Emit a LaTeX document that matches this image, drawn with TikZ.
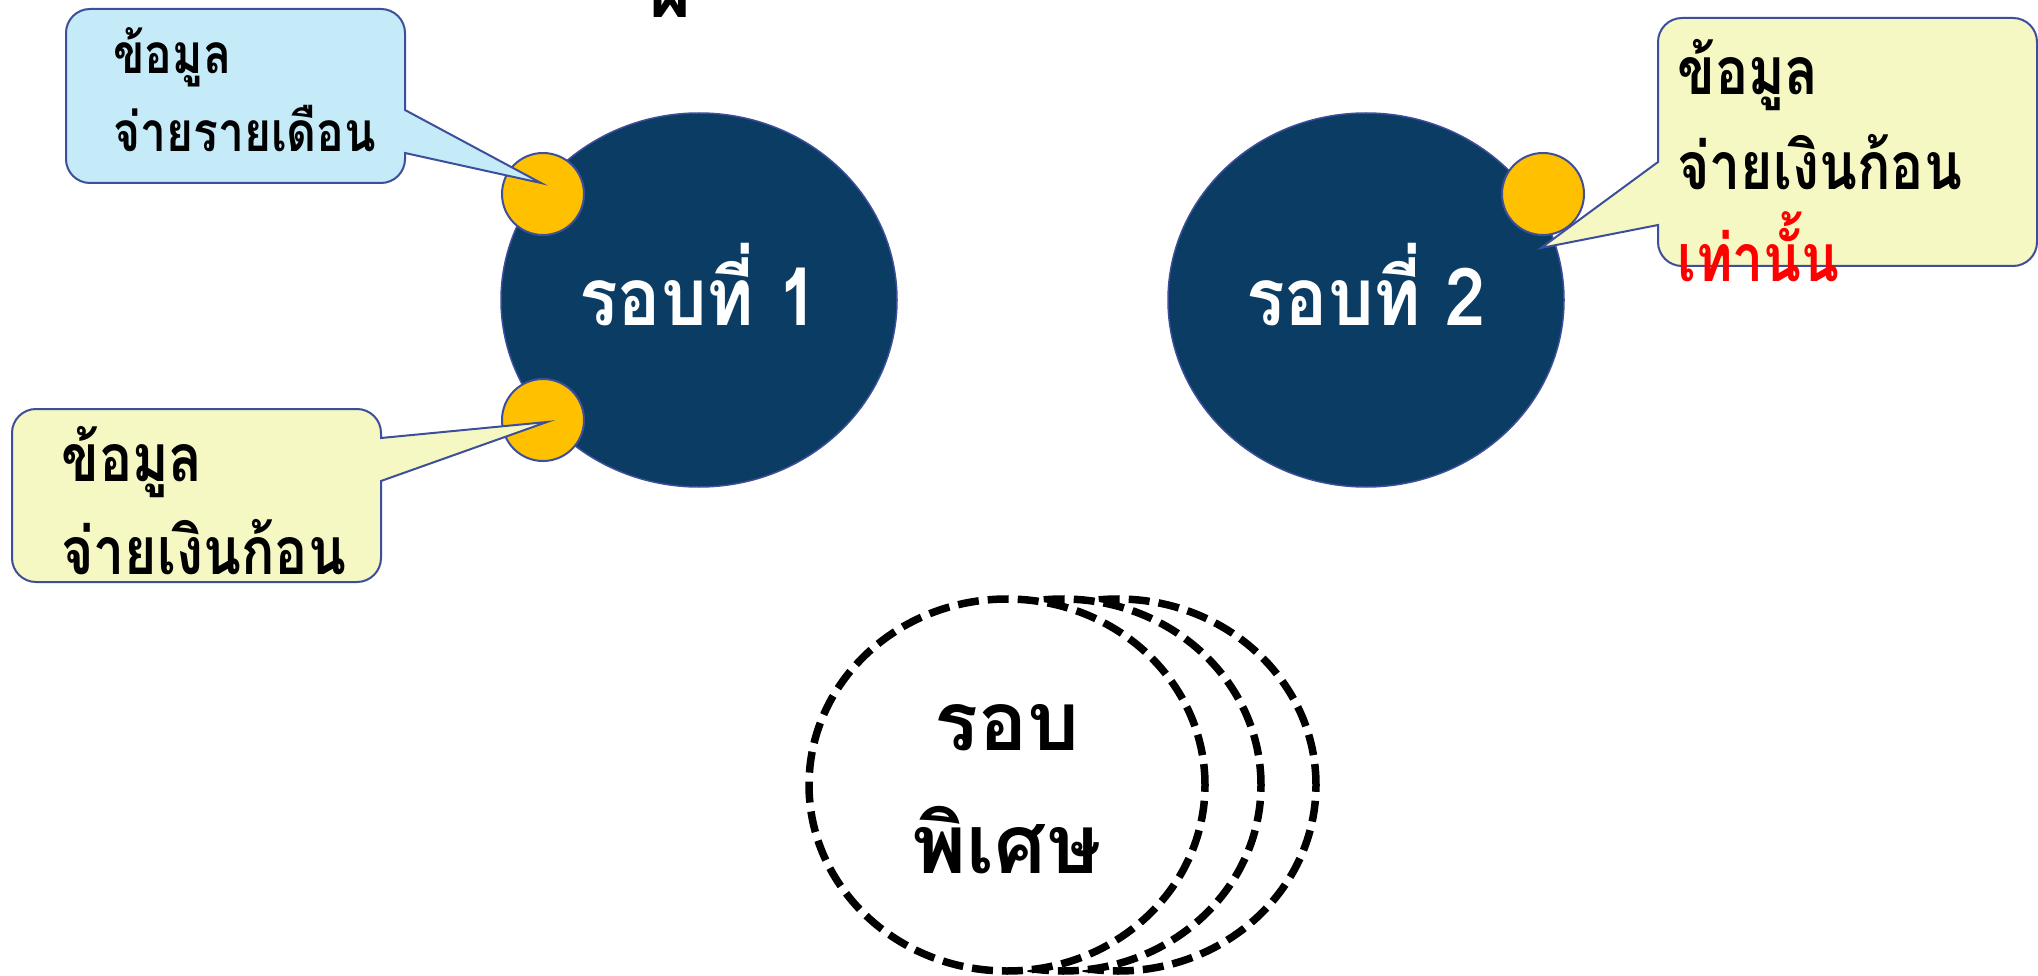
\documentclass[tikz,border=0pt]{standalone}
\usepackage{fontspec}
\usetikzlibrary{shapes.geometric}
\newfontfamily\thai[Script=Thai]{Loma}
\newfontfamily\thainarrow[Script=Thai, FakeStretch=0.84]{Loma}
\newfontfamily\thaimid[Script=Thai, FakeStretch=0.9]{Loma}
\definecolor{navy}{HTML}{0B3C64}
\definecolor{rim}{HTML}{3D4F9A}
\definecolor{sun}{HTML}{FFC000}
\definecolor{skyfill}{HTML}{C5EBF9}
\definecolor{lemon}{HTML}{F5F8C2}
\definecolor{redtxt}{HTML}{FF0000}
\tikzset{
  bigcirc/.style={ellipse, draw=rim, line width=1.5pt, fill=navy, minimum width=396pt, minimum height=374pt, inner sep=0pt},
  dot/.style={circle, draw=rim, line width=2pt, fill=sun, minimum size=82pt, inner sep=0pt},
  dashring/.style={ellipse, draw=black, fill=white, line width=7.5pt, dash pattern=on 21pt off 9pt, minimum width=396pt, minimum height=372pt, inner sep=0pt},
  callout/.style={draw=rim, line width=2pt, line join=miter},
  roundlabel/.style={anchor=base, inner sep=0pt, text=white, font=\thaimid\bfseries\fontsize{80}{88}\selectfont},
  ctext/.style={anchor=base west, inner sep=0pt, font=\thainarrow\bfseries\fontsize{66}{70}\selectfont},
  ctextnarrow/.style={anchor=base west, inner sep=0pt, font=\thainarrow\bfseries\fontsize{55}{60}\selectfont},
  speclabel/.style={anchor=base, inner sep=0pt, font=\thai\bfseries\fontsize{82}{90}\selectfont}
}
\begin{document}
\begin{tikzpicture}[x=1pt,y=-1pt]
\useasboundingbox (0,0) rectangle (2038,976);
\clip (0,0) rectangle (2038,976);

% partial title glyph at top
\node[anchor=base, inner sep=0pt, font=\thai\bfseries\fontsize{72}{80}\selectfont] (title) at (671,18) {ผ};

% main rounds
\node[bigcirc] (r1) at (699,300) {};
\node[bigcirc] (r2) at (1366,300) {};
\node[roundlabel] (r1t) at (699,326) {รอบที่ 1};
\node[roundlabel] (r2t) at (1366,326) {รอบที่ 2};

% yellow dots
\node[dot] (d1) at (543,194) {};
\node[dot] (d2) at (543,420) {};
\node[dot] (d3) at (1543,194) {};

% special round (stacked dashed rings)
\node[dashring] (s3) at (1118,785) {};
\node[dashring] (s2) at (1063,785) {};
\node[dashring] (s1) at (1007,785) {};
\node[speclabel] (s1a) at (1007,750) {รอบ};
\node[speclabel] (s1b) at (1007,873) {พิเศษ};

% callout tips
\coordinate (t1) at ([shift={(-2,-11)}]d1.center);
\coordinate (t2) at ([shift={(4,2)}]d2.center);
\coordinate (t3) at ([shift={(-2,54)}]d3.center);

% callout 1 (monthly)
\filldraw[callout, fill=skyfill]
  (90,9) -- (381,9) arc[start angle=-90, end angle=0, radius=24]
  -- (405,110) -- (t1) -- (405,153) -- (405,159) arc[start angle=0, end angle=90, radius=24]
  -- (90,183) arc[start angle=90, end angle=180, radius=24]
  -- (66,33) arc[start angle=180, end angle=270, radius=24] -- cycle;
\node[ctextnarrow] (c1a) at (113,74) {ข้อมูล};
\node[ctextnarrow] (c1b) at (113,152) {จ่ายรายเดือน};

% callout 2 (lump sum)
\filldraw[callout, fill=lemon]
  (36,409) -- (357,409) arc[start angle=-90, end angle=0, radius=24]
  -- (381,438) -- (t2) -- (381,481) -- (381,558) arc[start angle=0, end angle=90, radius=24]
  -- (36,582) arc[start angle=90, end angle=180, radius=24]
  -- (12,433) arc[start angle=180, end angle=270, radius=24] -- cycle;
\node[ctext] (c2a) at (61,481) {ข้อมูล};
\node[ctext] (c2b) at (61,574) {จ่ายเงินก้อน};

% callout 3 (lump sum only)
\filldraw[callout, fill=lemon]
  (1682,18) -- (2013,18) arc[start angle=-90, end angle=0, radius=24]
  -- (2037,242) arc[start angle=0, end angle=90, radius=24]
  -- (1682,266) arc[start angle=90, end angle=180, radius=24]
  -- (1658,225) -- (t3) -- (1658,162)
  -- (1658,42) arc[start angle=180, end angle=270, radius=24] -- cycle;
\node[ctext] (c3a) at (1677,95) {ข้อมูล};
\node[ctext] (c3b) at (1677,190) {จ่ายเงินก้อน};
\node[ctext, text=redtxt] (c3c) at (1677,282) {เท่านั้น};
\end{tikzpicture}
\end{document}
